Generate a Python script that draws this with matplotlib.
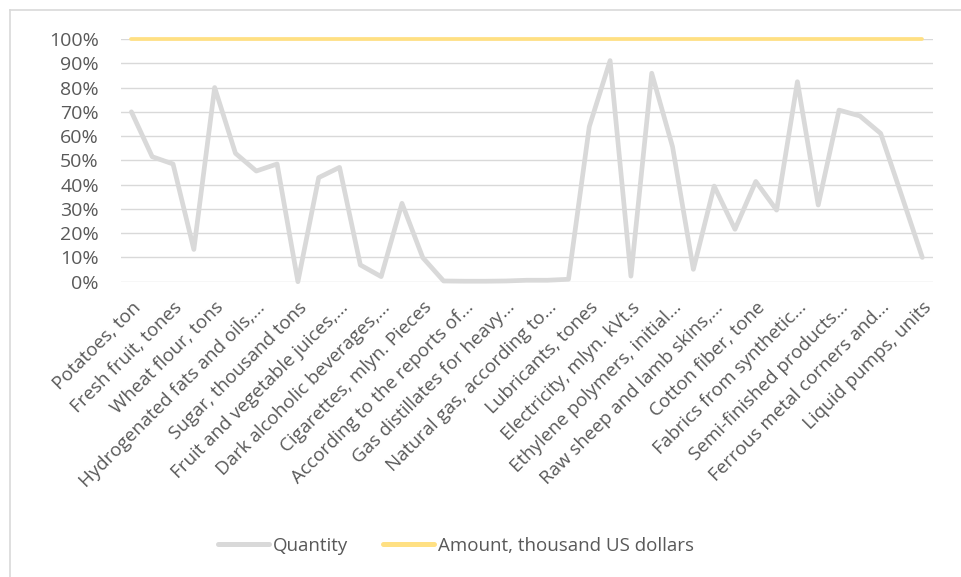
import matplotlib
matplotlib.use("Agg")
import matplotlib.pyplot as plt
from matplotlib.lines import Line2D
import numpy as np

GRAY = "#D9D9D9"; GOLD = "#FFE083"; TXT = "#595959"; GRID = "#D9D9D9"
FS = 13.5

plt.rcParams.update({
    "font.family": ["Open Sans", "DejaVu Sans"],
    "figure.facecolor": "white", "axes.facecolor": "white",
})

# 39 product rows; Excel only shows every other label
labels = [
    "Potatoes, ton", "Fresh fruit, tones", "Wheat flour, tons",
    "Hydrogenated fats and oils,...", "Sugar, thousand tons",
    "Fruit and vegetable juices,...", "Dark alcoholic beverages,...",
    "Cigarettes, mlyn. Pieces", "According to the reports of...",
    "Gas distillates for heavy...", "Natural gas, according to...",
    "Lubricants, tones", "Electricity, mlyn. kVt.s",
    "Ethylene polymers, initial...", "Raw sheep and lamb skins,...",
    "Cotton fiber, tone", "Fabrics from synthetic...",
    "Semi-finished products...", "Ferrous metal corners and...",
    "Liquid pumps, units",
]
quantity = [
    70.0, 51.5, 48.5, 13.3, 80.0, 52.9, 45.6, 48.5, 0.0, 42.9,
    47.1, 6.9, 2.1, 32.3, 9.9, 0.3, 0.2, 0.2, 0.3, 0.6,
    0.6, 1.0, 63.9, 91.1, 2.3, 85.9, 55.6, 5.1, 39.4, 21.6,
    41.3, 29.5, 82.4, 31.6, 70.7, 68.3, 61.1, 35.7, 10.0,
]
amount = [100.0] * len(quantity)

x = np.arange(len(quantity))

fig = plt.figure(figsize=(9.61, 5.77), dpi=100)
ax = fig.add_axes([121 / 961, 1 - 281.7 / 577, (932.7 - 121) / 961, (281.7 - 39) / 577])

for v in np.arange(0, 101, 10):
    ax.axhline(v / 100, color=GRID, lw=1.0, zorder=1)
ax.plot(x, np.array(quantity) / 100, color=GRAY, lw=3.4, solid_capstyle="round",
        solid_joinstyle="round", zorder=3, clip_on=False)
ax.plot(x, np.array(amount) / 100, color=GOLD, lw=2.7, solid_capstyle="round",
        zorder=4, clip_on=False)

ax.set_xlim(-0.5, len(quantity) - 0.5)
ax.set_ylim(0, 1)
ax.set_yticks(np.arange(0, 1.01, 0.1))
ax.set_yticklabels([f"{int(round(v * 100))}%" for v in np.arange(0, 1.01, 0.1)],
                   fontsize=14, color=TXT)
ax.set_xticks(x[::2])
ax.set_xticklabels(labels, rotation=45, ha="right", va="top", rotation_mode="anchor",
                   fontsize=FS, color=TXT)
ax.tick_params(axis="y", length=0, pad=16)
ax.tick_params(axis="x", length=0, pad=12)
for s in ax.spines.values():
    s.set_visible(False)

handles = [Line2D([], [], color=GRAY, lw=3.6, solid_capstyle="round"),
           Line2D([], [], color=GOLD, lw=3.6, solid_capstyle="round")]
leg = fig.legend(handles, ["Quantity", "Amount, thousand US dollars"], loc="center",
                 bbox_to_anchor=(456 / 961, 1 - 546 / 577), ncol=2, frameon=False,
                 fontsize=FS, handlelength=2.7, handletextpad=0.2, columnspacing=1.9)
for t in leg.get_texts():
    t.set_color(TXT)

# chart-area border (left and top edges visible in the crop)
fig.add_artist(Line2D([10 / 961, 10 / 961], [0, 1 - 9.5 / 577], color=GRID, lw=1.2,
                      transform=fig.transFigure))
fig.add_artist(Line2D([10 / 961, 1], [1 - 9.5 / 577, 1 - 9.5 / 577], color=GRID, lw=1.2,
                      transform=fig.transFigure))

fig.savefig("out.png", dpi=100)
